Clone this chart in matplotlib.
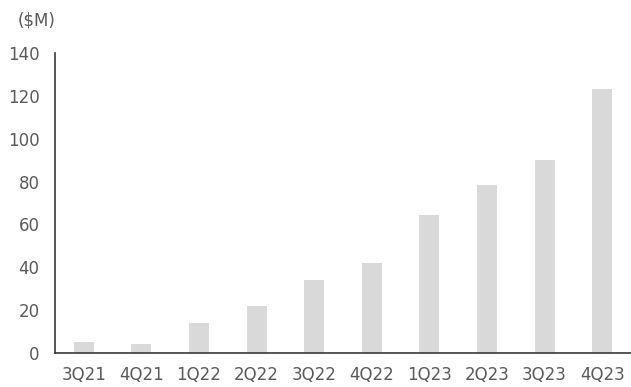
import matplotlib.pyplot as plt

# Quarterly values ($M)
quarters = ['3Q21', '4Q21', '1Q22', '2Q22', '3Q22', '4Q22', '1Q23', '2Q23', '3Q23', '4Q23']
values = [5.0, 4.2, 14.1, 22.0, 34.0, 42.0, 64.4, 78.4, 90.0, 123.2]

plt.rcParams['font.family'] = ['DejaVu Sans']
text_color = '#5a5a5a'

fig = plt.figure(figsize=(6.31, 3.87), dpi=100)
ax = fig.add_axes([55 / 631, 1 - 353 / 387, 1 - 55 / 631, 300 / 387])

ax.bar(range(len(quarters)), values, width=0.35, color='#d9d9d9')

ax.set_xlim(-0.5, len(quarters) - 0.5)
ax.set_ylim(0, 140)
ax.set_yticks(range(0, 141, 20))
ax.set_xticks(range(len(quarters)))
ax.set_xticklabels(quarters)

ax.tick_params(axis='both', length=0, labelsize=12, labelcolor=text_color)
ax.tick_params(axis='y', pad=11)
ax.tick_params(axis='x', pad=9)

for side in ['top', 'right']:
    ax.spines[side].set_visible(False)
for side in ['left', 'bottom']:
    ax.spines[side].set_color('#3a3a3a')
    ax.spines[side].set_linewidth(1.2)

fig.text(37 / 631, 1 - 20 / 387, '($M)', ha='center', va='center',
         fontsize=12, color=text_color)

fig.savefig('out.png', dpi=100)
